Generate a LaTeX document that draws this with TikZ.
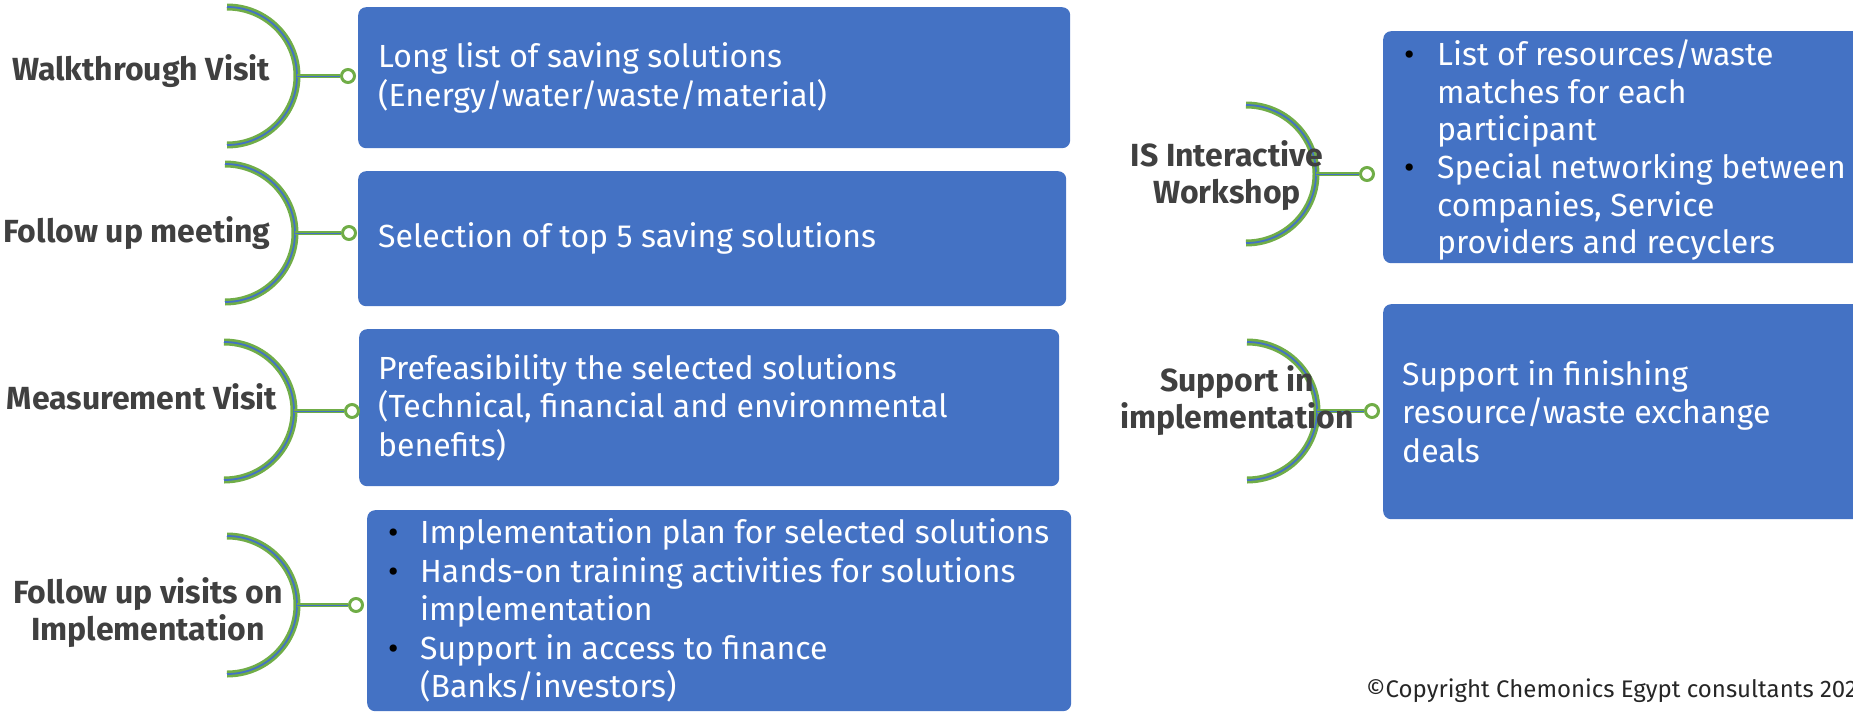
\documentclass[tikz,border=0pt]{standalone}
\usepackage{fontspec}
\setmainfont{Fira Sans}
\definecolor{boxblue}{HTML}{4472C4}
\definecolor{arcgreen}{HTML}{70AD47}
\definecolor{labelgray}{HTML}{404040}
\definecolor{copygray}{HTML}{262626}
\newcommand{\bul}[1]{\makebox[#1][l]{\textcolor{black}{\textbullet}}}
\newcommand{\bind}[1]{\hspace*{#1}}
\begin{document}
\begin{tikzpicture}[x=1pt,y=-1pt,
  boxshape/.style={fill=boxblue, rounded corners=8pt, anchor=north west, inner sep=0pt},
  boxtext/.style={anchor=west, inner sep=0pt, align=left, text=white, font=\fontsize{32}{38.5}\selectfont},
  lab/.style={text=labelgray, font=\fontsize{32}{37}\selectfont\bfseries, align=center, anchor=base, inner sep=0pt},
  arcline/.style={draw=arcgreen, line width=2.6pt, double=boxblue, double distance=1.8pt},
  link/.style={draw=arcgreen, line width=1.6pt, double=boxblue, double distance=1.0pt},
  endc/.style={circle, draw=arcgreen, line width=3pt, fill=white, minimum size=13pt, inner sep=0pt},
]
\useasboundingbox (0,0) rectangle (1853,712);

% boxes
\node[boxshape, minimum width=712pt, minimum height=141pt] (b1) at (358,7) {};
\node[boxshape, minimum width=708pt, minimum height=135pt] (b2) at (358,171) {};
\node[boxshape, minimum width=700pt, minimum height=157pt] (b3) at (359,329) {};
\node[boxshape, minimum width=704pt, minimum height=201pt] (b4) at (367,510) {};
\node[boxshape, minimum width=500pt, minimum height=232pt] (r1) at (1383,31) {};
\node[boxshape, minimum width=500pt, minimum height=215pt] (r2) at (1383,304) {};

% box texts
\node[boxtext] (tb1) at ([xshift=20pt]b1.west) {Long list of saving solutions\\(Energy/water/waste/material)};
\node[boxtext] (tb2) at ([xshift=20pt]b2.west) {Selection of top 5 saving solutions};
\node[boxtext] (tb3) at ([xshift=19pt]b3.west) {Prefeasibility the selected solutions\\(Technical, financial and environmental\\benefits)};
\node[boxtext] (tb4) at ([xshift=21pt]b4.west) {\bul{32pt}Implementation plan for selected solutions\\
\bul{32pt}Hands-on training activities for solutions\\
\bind{32pt}implementation\\
\bul{32pt}Support in access to finance\\
\bind{32pt}(Banks/investors)};
\node[boxtext, font=\fontsize{32}{37.6}\selectfont] (tr1) at ([xshift=21pt,yshift=-3pt]r1.west) {\bul{33pt}List of resources/waste\\
\bind{33pt}matches for each\\
\bind{33pt}participant\\
\bul{33pt}Special networking between\\
\bind{33pt}companies, Service\\
\bind{33pt}providers and recyclers};
\node[boxtext] (tr2) at ([xshift=19pt]r2.west) {Support in finishing\\resource/waste exchange\\deals};

% arcs (top end points), apex coordinates
\coordinate (t1) at (227,7);   \coordinate (a1) at (297,76);
\coordinate (t2) at (225,164); \coordinate (a2) at (295,233);
\coordinate (t3) at (224,342); \coordinate (a3) at (294,411);
\coordinate (t4) at (227,536); \coordinate (a4) at (297,605);
\coordinate (t5) at (1246,105);\coordinate (a5) at (1316,174);
\coordinate (t6) at (1247,342);\coordinate (a6) at (1317,411);
\foreach \t in {t1,t2,t3,t4,t5,t6}
  \draw[arcline] (\t) arc[start angle=90, end angle=-90, x radius=70pt, y radius=69pt];

% end circles
\node[endc] (c1) at (348,76) {};
\node[endc] (c2) at (349,233) {};
\node[endc] (c3) at (352,411) {};
\node[endc] (c4) at (356,605) {};
\node[endc] (c5) at (1367,174) {};
\node[endc] (c6) at (1372,411) {};
\foreach \i in {1,...,6}
  \draw[link] (a\i) -- (c\i);

% labels (anchor base = baseline of last line)
\node[lab] (l1) at (141,80) {Walkthrough Visit};
\node[lab] (l2) at (137,242) {Follow up meeting};
\node[lab] (l3) at (142,409) {Measurement Visit};
\node[lab] (l4) at (148,640) {Follow up visits on\\Implementation};
\node[lab] (l5) at (1227,203) {IS Interactive\\Workshop};
\node[lab] (l6) at (1237,428) {Support in\\implementation};

% copyright
\node[anchor=base west, inner sep=0pt, text=copygray, font=\fontsize{24}{28}\selectfont] (copy) at (1366,697) {©Copyright Chemonics Egypt consultants 2022};
\end{tikzpicture}
\end{document}
